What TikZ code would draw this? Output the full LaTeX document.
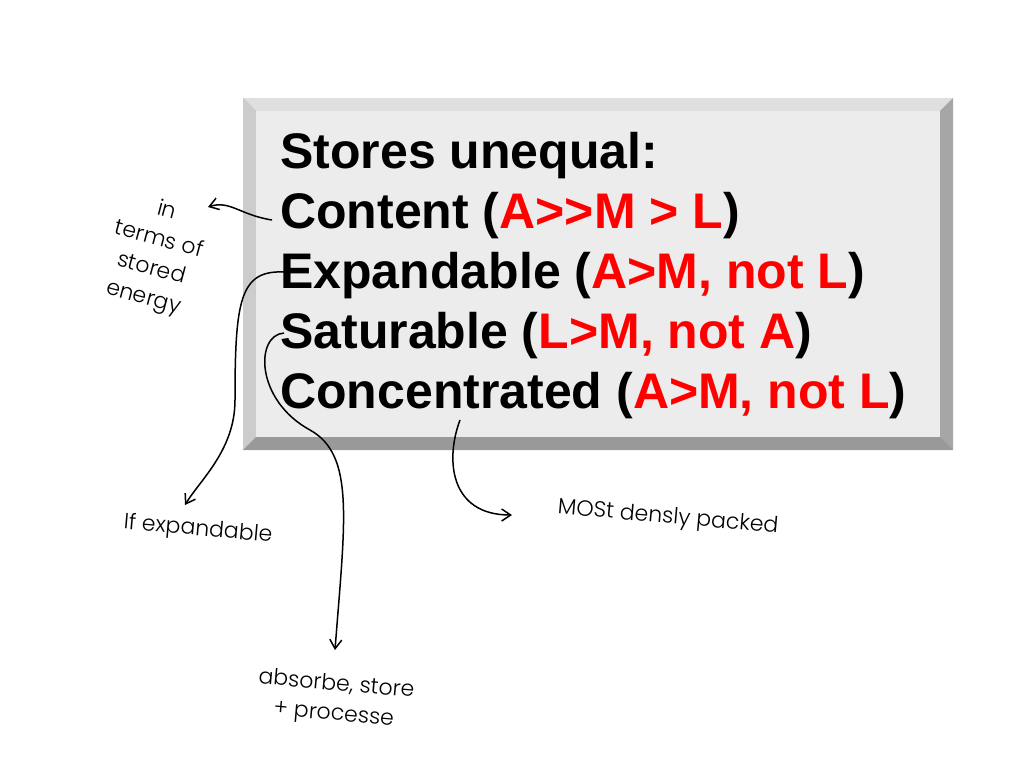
\documentclass[tikz,border=0pt]{standalone}
\usepackage{fontspec}
\usetikzlibrary{arrows.meta}
\setmainfont{Liberation Sans}
\newfontfamily\hand{Poppins Light}
\begin{document}
\begin{tikzpicture}[x=1pt,y=-1pt,
  lbl/.style={font=\fontsize{50}{60}\selectfont\bfseries,anchor=base west,inner sep=0pt},
  hw/.style={font=\hand\fontsize{22}{30}\selectfont,inner sep=0pt,align=center},
  pen/.style={line width=1.5pt,->,>={Straight Barb[length=9pt,width=12pt]}}]
\useasboundingbox (0,0) rectangle (1011,760);
\fill[gray!55] (243,98) rectangle (953,450);
\fill[gray!25] (243,98) -- (953,98) -- (940,111) -- (256,111) -- cycle;
\fill[gray!40] (243,98) -- (256,111) -- (256,437) -- (243,450) -- cycle;
\fill[gray!70] (953,98) -- (953,450) -- (940,437) -- (940,111) -- cycle;
\fill[gray!80] (243,450) -- (953,450) -- (940,437) -- (256,437) -- cycle;
\fill[gray!15] (256,111) rectangle (940,437);
\node[lbl] (t1) at (280,168) {Stores unequal:};
\node[lbl] (t2) at (280,228) {Content (\textcolor{red}{A{>}{>}M > L})};
\node[lbl] (t3) at (280,288) {Expandable (\textcolor{red}{A>M, not L})};
\node[lbl] (t4) at (280,348) {Saturable (\textcolor{red}{L>M, not A})};
\node[lbl] (t5) at (280,408) {Concentrated (\textcolor{red}{A>M, not L})};
\node[hw,rotate=-15] (h1) at (155,255) {in\\terms of\\stored\\energy};
\node[hw,rotate=-5] (h2) at (198,530) {If expandable};
\node[hw,rotate=-5] (h3) at (335,700) {absorbe, store\\+ processe};
\node[hw,rotate=-5] (h4) at (668,518) {MOSt densly packed};
\coordinate (a1) at (272,220); \coordinate (b1) at (208,207);
\draw[pen] (a1) .. controls (240,215) and (230,200) .. (b1);
\coordinate (a2) at (284,272); \coordinate (b2) at (185,505);
\draw[pen] (a2) .. controls (240,270) and (235,300) .. (235,400) .. controls (235,450) and (200,480) .. (b2);
\coordinate (a3) at (284,333); \coordinate (b3) at (335,650);
\draw[pen] (a3) .. controls (255,335) and (255,400) .. (310,430) .. controls (355,455) and (345,520) .. (b3);
\coordinate (a4) at (460,420); \coordinate (b4) at (512,515);
\draw[pen] (a4) .. controls (445,460) and (450,515) .. (b4);
\end{tikzpicture}
\end{document}
